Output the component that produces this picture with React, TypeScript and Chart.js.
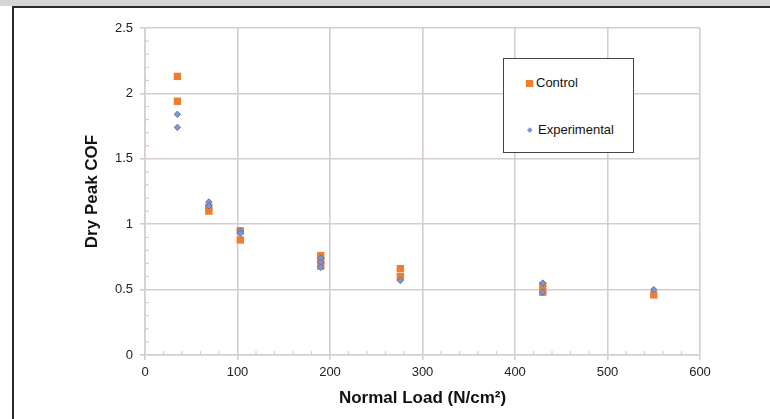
import React, { useEffect, useRef } from "react";
import { Chart, registerables } from "chart.js";

Chart.register(...registerables);

// Normal load (N/cm²) and dry peak coefficient of friction for each specimen
const seriesNames = ["Control", "Experimental"];
const controlLoad = [35, 35, 69, 69, 103, 103, 190, 190, 190, 276, 276, 430, 430, 550];
const controlCOF = [2.13, 1.94, 1.13, 1.1, 0.95, 0.88, 0.76, 0.72, 0.68, 0.66, 0.6, 0.53, 0.48, 0.46];
const experimentalLoad = [35, 35, 69, 69, 103, 103, 190, 190, 190, 276, 430, 430, 550];
const experimentalCOF = [1.84, 1.74, 1.17, 1.14, 0.95, 0.93, 0.74, 0.71, 0.67, 0.57, 0.55, 0.48, 0.5];

const xTicks = [0, 100, 200, 300, 400, 500, 600];
const yTicks = [0, 0.5, 1, 1.5, 2, 2.5];
const xMinorStep = 20;
const yMinorStep = 0.1;

const FONT = "Arial, 'Liberation Sans', Helvetica, sans-serif";
const GRID = "#d6cdcd";
const ORANGE = "#ee7d31";
const BLUE = "#7f96d3";
const BLUE_EDGE = "#5c74b7";

// Small inward tick marks between the labelled ticks
const minorTicks = {
  id: "minorTicks",
  beforeDatasetsDraw(chart: any) {
    const { ctx, chartArea, scales } = chart;
    const xs = scales.x;
    const ys = scales.y;
    ctx.save();
    ctx.strokeStyle = GRID;
    ctx.lineWidth = 1.2;
    ctx.beginPath();
    for (let v = xs.min + xMinorStep; v < xs.max; v += xMinorStep) {
      if (Math.abs(v / 100 - Math.round(v / 100)) < 1e-6) continue;
      const px = xs.getPixelForValue(v);
      ctx.moveTo(px, chartArea.bottom);
      ctx.lineTo(px, chartArea.bottom - 4);
    }
    for (let i = 1; i * yMinorStep < ys.max - 1e-9; i++) {
      const v = i * yMinorStep;
      if (i % 5 === 0) continue;
      const py = ys.getPixelForValue(v);
      ctx.moveTo(chartArea.left, py);
      ctx.lineTo(chartArea.left + 4, py);
    }
    ctx.stroke();
    ctx.restore();
  },
};

function CofChart() {
  const canvasRef = useRef<HTMLCanvasElement | null>(null);

  useEffect(() => {
    if (!canvasRef.current) return;
    const chart = new Chart(canvasRef.current, {
      type: "scatter",
      data: {
        datasets: [
          {
            label: seriesNames[0],
            data: controlLoad.map((x, i) => ({ x, y: controlCOF[i] })),
            pointStyle: "rect",
            pointRadius: 5.2,
            backgroundColor: ORANGE,
            borderColor: ORANGE,
            borderWidth: 0,
            order: 1,
          },
          {
            label: seriesNames[1],
            data: experimentalLoad.map((x, i) => ({ x, y: experimentalCOF[i] })),
            pointStyle: "rectRot",
            pointRadius: 3.2,
            backgroundColor: BLUE,
            borderColor: BLUE_EDGE,
            borderWidth: 1,
            order: 0,
          },
        ],
      },
      options: {
        animation: false,
        responsive: false,
        maintainAspectRatio: false,
        layout: { padding: { left: 0, top: 28, right: 70, bottom: 6 } },
        plugins: { legend: { display: false }, tooltip: { enabled: false } },
        scales: {
          x: {
            type: "linear",
            min: 0,
            max: 600,
            afterBuildTicks: (s: any) => {
              s.ticks = xTicks.map((value) => ({ value }));
            },
            afterFit: (s: any) => {
              s.height = 419 - 355 - 6;
            },
            grid: { color: GRID, lineWidth: 1.6, tickLength: 5, tickColor: GRID },
            border: { color: GRID, width: 1.6 },
            ticks: {
              font: { family: FONT, size: 13 },
              color: "#222",
              padding: 5,
              maxRotation: 0,
              callback: (v: any) => String(v),
            },
            title: {
              display: true,
              text: "Normal Load (N/cm²)",
              color: "#111",
              font: { family: FONT, size: 17, weight: "bold" },
              padding: { top: 0, bottom: 4 },
            },
          },
          y: {
            type: "linear",
            min: 0,
            max: 2.5,
            afterBuildTicks: (s: any) => {
              s.ticks = yTicks.map((value) => ({ value }));
            },
            afterFit: (s: any) => {
              s.width = 145;
            },
            grid: { color: GRID, lineWidth: 1.6, tickLength: 5, tickColor: GRID },
            border: { color: GRID, width: 1.6 },
            ticks: {
              font: { family: FONT, size: 13 },
              color: "#222",
              padding: 7,
              callback: (v: any) => String(v),
            },
            title: {
              display: true,
              text: "Dry Peak COF",
              color: "#111",
              font: { family: FONT, size: 17, weight: "bold" },
              padding: { top: 82, bottom: 0 },
            },
          },
        },
      },
      plugins: [minorTicks],
    });
    return () => chart.destroy();
  }, []);

  return (
    <canvas
      ref={canvasRef}
      width={770}
      height={419}
      style={{ position: "absolute", left: 0, top: 0, width: 770, height: 419 }}
    />
  );
}

function Legend() {
  const items = [
    { name: seriesNames[0], top: 82, markerLeft: 525, textLeft: 535, kind: "square" },
    { name: seriesNames[1], top: 129, markerLeft: 527, textLeft: 537, kind: "diamond" },
  ];
  return (
    <div
      style={{
        position: "absolute",
        left: 503,
        top: 58,
        width: 131,
        height: 95,
        boxSizing: "border-box",
        border: "1.5px solid #444",
        background: "#fff",
      }}
    >
      {items.map((m) => (
        <React.Fragment key={m.name}>
          {m.kind === "square" ? (
            <div
              style={{
                position: "absolute",
                left: m.markerLeft - 503,
                top: m.top - 58 - 3.5,
                width: 7,
                height: 7,
                background: ORANGE,
              }}
            />
          ) : (
            <div
              style={{
                position: "absolute",
                left: m.markerLeft - 503,
                top: m.top - 58 - 2,
                width: 3.6,
                height: 3.6,
                background: BLUE,
                transform: "rotate(45deg)",
              }}
            />
          )}
          <div
            style={{
              position: "absolute",
              left: m.textLeft - 503,
              top: m.top - 58 - 8,
              fontFamily: FONT,
              fontSize: 13,
              lineHeight: "16px",
              color: "#111",
              whiteSpace: "nowrap",
            }}
          >
            {m.name}
          </div>
        </React.Fragment>
      ))}
    </div>
  );
}

export default function App() {
  return (
    <div
      style={{
        position: "fixed",
        left: 0,
        top: 0,
        width: 770,
        height: 419,
        overflow: "hidden",
        background: "#fff",
      }}
    >
      <div style={{ position: "absolute", left: 0, top: 0, width: 770, height: 6, background: "#d5d5d5" }} />
      <div style={{ position: "absolute", left: 12, top: 5.5, width: 800, height: 2, background: "#2a2a2a" }} />
      <div style={{ position: "absolute", left: 12, top: 5.5, width: 2, height: 430, background: "#2a2a2a" }} />
      <CofChart />
      <Legend />
    </div>
  );
}
